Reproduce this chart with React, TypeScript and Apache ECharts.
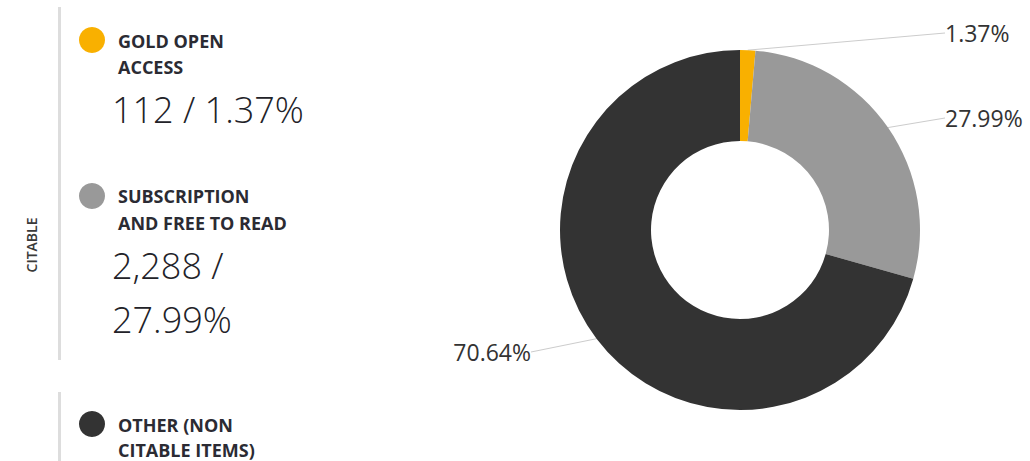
import React, { useEffect, useRef } from "react";
import * as echarts from "echarts";

const categories = ["GOLD OPEN ACCESS", "SUBSCRIPTION AND FREE TO READ", "OTHER (NON CITABLE ITEMS)"];
const counts = [112, 2288, 5775];
const percents = ["1.37%", "27.99%", "70.64%"];
const colors = ["#F9B000", "#999999", "#333333"];
const legendTitleLines = [["GOLD OPEN", "ACCESS"], ["SUBSCRIPTION", "AND FREE TO READ"], ["OTHER (NON", "CITABLE ITEMS)"]];
const legendValueLines = [["112 / 1.37%"], ["2,288 /", "27.99%"], []];

export default function App() {
  const ref = useRef<HTMLDivElement>(null);
  useEffect(() => {
    document.body.style.margin = "0";
    const chart = echarts.init(ref.current!, null, { renderer: "svg" });
    const graphic: any[] = [];
    graphic.push({ type: "line", shape: { x1: 59.5, y1: 7, x2: 59.5, y2: 360 }, style: { stroke: "#dddddd", lineWidth: 3 } });
    graphic.push({ type: "line", shape: { x1: 59.5, y1: 392, x2: 59.5, y2: 461 }, style: { stroke: "#dddddd", lineWidth: 3 } });
    graphic.push({
      type: "text", x: 31, y: 245, rotation: Math.PI / 2,
      style: { text: "CITABLE", fill: "#3a3a3a", fontFamily: "Open Sans", fontSize: 14, fontWeight: 600, align: "center", verticalAlign: "middle" },
    });
    const circleY = [40, 196, 424];
    const titleY = [[41, 67], [196, 223], [425, 450]];
    const valueY = [[109], [265, 319], []];
    categories.forEach((_, i) => {
      graphic.push({ type: "circle", shape: { cx: 92, cy: circleY[i], r: 13 }, style: { fill: colors[i] } });
      legendTitleLines[i].forEach((t, j) => {
        graphic.push({
          type: "text", x: 118, y: titleY[i][j],
          style: { text: t, fill: "#2b2b33", fontFamily: "Open Sans", fontSize: 18, fontWeight: "bold", align: "left", verticalAlign: "middle" },
        });
      });
      legendValueLines[i].forEach((t, j) => {
        graphic.push({
          type: "text", x: 112, y: valueY[i][j],
          style: { text: t, fill: "#222228", fontFamily: "Open Sans", fontSize: 36, fontWeight: 300, align: "left", verticalAlign: "middle" },
        });
      });
    });

    const labelPos = [
      { x: 939, y: 33, align: "left" },
      { x: 939, y: 118, align: "left" },
      { x: 537, y: 352, align: "right" },
    ];

    chart.setOption({
      animation: false,
      graphic,
      series: [
        {
          type: "pie",
          center: [740, 230],
          radius: [89, 180],
          startAngle: 90,
          clockwise: true,
          data: categories.map((c, i) => ({ name: c, value: counts[i], itemStyle: { color: colors[i] } })),
          label: {
            show: true,
            formatter: (p: any) => percents[p.dataIndex],
            color: "#333333",
            fontFamily: "Open Sans",
            fontSize: 23,
            padding: [0, 6],
          },
          labelLine: { show: true, length: 10, length2: 0, lineStyle: { color: "#cccccc", width: 1 } },
          labelLayout: (p: any) => ({ ...labelPos[p.dataIndex], verticalAlign: "middle" }),
          emphasis: { disabled: true },
        },
      ],
    });
    return () => chart.dispose();
  }, []);
  return <div ref={ref} style={{ width: 1030, height: 461 }} />;
}
